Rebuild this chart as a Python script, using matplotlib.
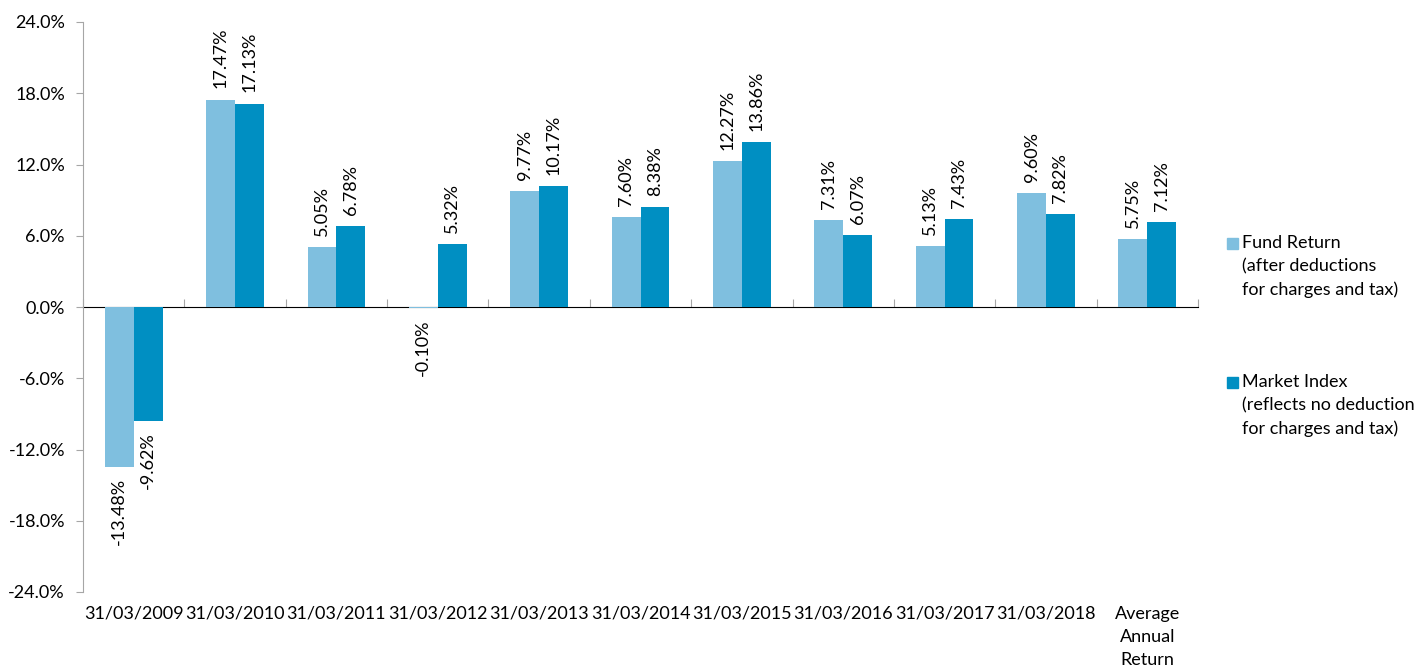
import numpy as np
import matplotlib
matplotlib.use('Agg')
import matplotlib.pyplot as plt
from matplotlib.patches import Rectangle

categories = ['31/03/2009', '31/03/2010', '31/03/2011', '31/03/2012', '31/03/2013',
              '31/03/2014', '31/03/2015', '31/03/2016', '31/03/2017', '31/03/2018',
              'Average\nAnnual\nReturn']
fund_return = [-13.48, 17.47, 5.05, -0.10, 9.77, 7.60, 12.27, 7.31, 5.13, 9.60, 5.75]
market_index = [-9.62, 17.13, 6.78, 5.32, 10.17, 8.38, 13.86, 6.07, 7.43, 7.82, 7.12]
series_labels = ['Fund Return\n(after deductions\nfor charges and tax)',
                 'Market Index\n(reflects no deduction\nfor charges and tax)']
colors = ['#7fbfdf', '#008fc2']
yticks = [-24, -18, -12, -6, 0, 6, 12, 18, 24]

plt.rcParams['font.family'] = ['Lato', 'DejaVu Sans']
fs = 13
axis_grey = '#a6a6a6'

fig = plt.figure(figsize=(14.18, 6.72), dpi=100)
ax = fig.add_axes([83 / 1418, 1 - 592 / 672, (1198 - 83) / 1418, 570 / 672])

x = np.arange(len(categories))
w = 0.285
b1 = ax.bar(x - w / 2, fund_return, w, color=colors[0])
b2 = ax.bar(x + w / 2, market_index, w, color=colors[1])
for bars in (b1, b2):
    ax.bar_label(bars, labels=['%.2f%%' % v for v in bars.datavalues],
                 rotation=90, padding=8, fontsize=fs)

ax.set_xlim(-0.5, len(categories) - 0.5)
ax.set_ylim(-24, 24)
ax.set_yticks(yticks)
ax.set_yticklabels(['%.1f%%' % v for v in yticks], fontsize=fs)
ax.set_xticks(x)
ax.set_xticklabels(categories, linespacing=1.55, fontsize=fs)
ax.tick_params(axis='x', length=0, pad=10)
ax.tick_params(axis='y', length=5, color=axis_grey, pad=8)

for s in ('top', 'right', 'bottom'):
    ax.spines[s].set_visible(False)
ax.spines['left'].set_color(axis_grey)

# zero line with category separators
zero = ax.secondary_xaxis(0.5)
zero.set_xticks(np.arange(len(categories) + 1) - 0.5)
zero.set_xticklabels([])
zero.tick_params(length=6, color=axis_grey)
zero.spines['bottom'].set_color(axis_grey)

# legend drawn by hand so the square lines up with the first line
for i, (lab, c) in enumerate(zip(series_labels, colors)):
    ytop = 1 - (235 + i * 139) / 672
    fig.patches.append(Rectangle((1227 / 1418, ytop - 14 / 672), 11 / 1418, 11 / 672,
                                 transform=fig.transFigure, color=c))
    fig.text(1242 / 1418, ytop, lab, va='top', ha='left', fontsize=fs, linespacing=1.55)

fig.savefig('out.png', dpi=100)
